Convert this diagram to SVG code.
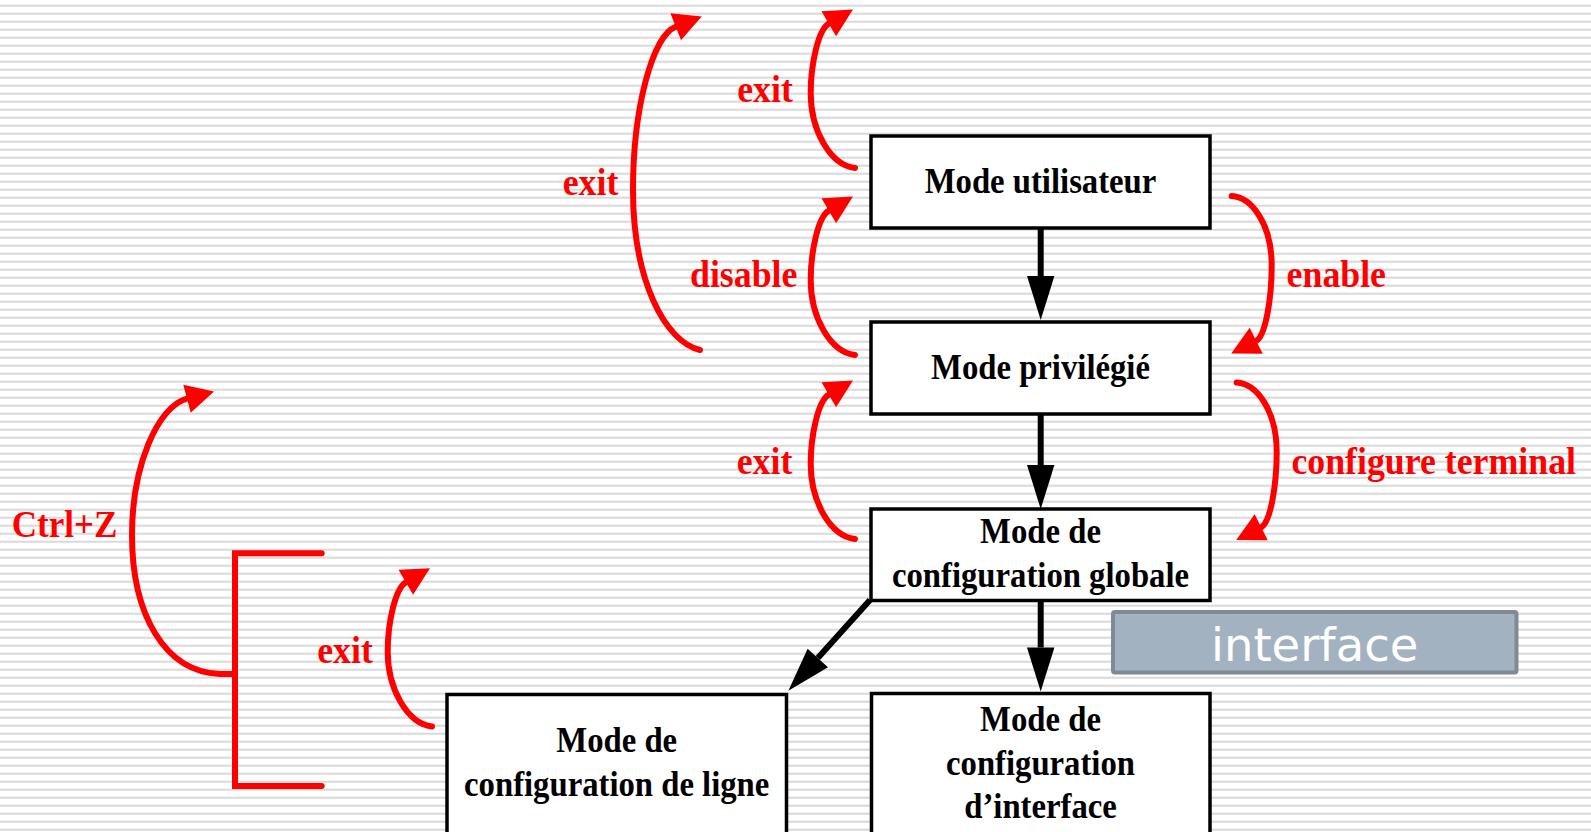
<svg xmlns="http://www.w3.org/2000/svg" width="1591" height="832" viewBox="0 0 1591 832">
<style>
.box{fill:#fff;stroke:#000;stroke-width:3.5}
.bt{font-family:"Liberation Serif","Times New Roman",serif;font-weight:bold;font-size:35.3px;fill:#000;text-anchor:middle}
.rt{font-family:"Liberation Serif","Times New Roman",serif;font-weight:bold;font-size:38.5px;fill:#ff0000;text-anchor:middle}
.red{fill:none;stroke:#ff0000;stroke-width:6;stroke-linecap:round}
.blk{fill:none;stroke:#000;stroke-width:6}
</style>
<defs>
<pattern id="bg" width="1591" height="8" patternUnits="userSpaceOnUse">
<rect x="0" y="4.7" width="1591" height="2" fill="#d9d9d9"/>
</pattern>
<marker id="rh" markerUnits="userSpaceOnUse" markerWidth="30" markerHeight="30" refX="0" refY="14.5" orient="auto" overflow="visible">
<path d="M0,0 L28,14.5 L0,29 z" fill="#ff0000"/>
</marker>
<marker id="bh" markerUnits="userSpaceOnUse" markerWidth="46" markerHeight="30" refX="0" refY="13.7" orient="auto" overflow="visible">
<path d="M0,0 L44,13.7 L0,27.4 z" fill="#000"/>
</marker>
</defs>
<rect width="1591" height="832" fill="#fff"/>
<rect width="1591" height="832" fill="url(#bg)"/>

<g id="connectors">
<path class="blk" d="M1040.7,228 L1040.7,276" marker-end="url(#bh)"/>
<path class="blk" d="M1040.7,414 L1040.7,465" marker-end="url(#bh)"/>
<path class="blk" d="M1040.7,600 L1040.7,647.5" marker-end="url(#bh)"/>
<path class="blk" d="M870,600 L817.8,658" marker-end="url(#bh)"/>

<path class="red" d="M700,350 C665,342 633,280 633,190 C633,110 652,36 675.7,26.7" marker-end="url(#rh)"/>
<path class="red" d="M855,168 C830,165 810.7,130 810.7,93 C810.7,65 818,30 828.8,23.7" marker-end="url(#rh)"/>
<path class="red" d="M855,355 C830,352 810.7,317 810.7,280 C810.7,252 818,217 828.8,210.7" marker-end="url(#rh)"/>
<path class="red" d="M855,539 C830,536 810.7,501 810.7,464 C810.7,436 818,401 828.8,394.7" marker-end="url(#rh)"/>
<path class="red" d="M432,726.6 C407,723.6 387.7,688.6 387.7,651.6 C387.7,623.6 395,588.6 405.8,582.3" marker-end="url(#rh)"/>
<path class="red" d="M1231.7,196 C1252,197 1271.7,225 1271.7,265 C1271.7,300 1265.1,336.3 1256.2,340.8" marker-end="url(#rh)"/>
<path class="red" d="M1236.7,382.5 C1257,383.5 1276.7,411.5 1276.7,451.5 C1276.7,486.5 1270.1,522.8 1261.2,527.3" marker-end="url(#rh)"/>
<path class="red" d="M235,674 L220,674 C165,672 132,615 132,535 C132,465 158,406.4 187,398.7" marker-end="url(#rh)"/>
<path class="red" style="stroke-linejoin:miter" d="M321.7,553.3 L235,553.3 L235,786 L321.7,786"/>

<text class="rt" transform="translate(590.5,195) scale(0.93,1)">exit</text>
<text class="rt" transform="translate(765,102) scale(0.93,1)">exit</text>
<text class="rt" transform="translate(743.7,287) scale(0.93,1)">disable</text>
<text class="rt" transform="translate(764.5,474) scale(0.93,1)">exit</text>
<text class="rt" transform="translate(1336.3,287) scale(0.93,1)">enable</text>
<text class="rt" transform="translate(1433.7,474) scale(0.93,1)">configure terminal</text>
<text class="rt" transform="translate(64.5,537) scale(0.91,1)">Ctrl+Z</text>
<text class="rt" transform="translate(345,663) scale(0.93,1)">exit</text>
</g>

<g id="mode-utilisateur">
<rect class="box" x="871" y="136" width="339" height="92"/>
<text class="bt" transform="translate(1040.5,193) scale(0.927,1)">Mode utilisateur</text>
</g>
<g id="mode-privilegie">
<rect class="box" x="871" y="322" width="339" height="92"/>
<text class="bt" transform="translate(1040.5,378.5) scale(0.927,1)">Mode privilégié</text>
</g>
<g id="mode-config-globale">
<rect class="box" x="871" y="509" width="339" height="91.5"/>
<text class="bt" transform="translate(1040.5,543) scale(0.927,1)">Mode de</text>
<text class="bt" transform="translate(1040.5,586.5) scale(0.927,1)">configuration globale</text>
</g>
<g id="mode-config-ligne">
<rect class="box" x="447" y="694.5" width="339.5" height="150"/>
<text class="bt" transform="translate(616.7,752) scale(0.927,1)">Mode de</text>
<text class="bt" transform="translate(616.7,796) scale(0.927,1)">configuration de ligne</text>
</g>
<g id="mode-config-interface">
<rect class="box" x="871.5" y="693.5" width="338.5" height="150"/>
<text class="bt" transform="translate(1040.5,731) scale(0.927,1)">Mode de</text>
<text class="bt" transform="translate(1040.5,774.5) scale(0.927,1)">configuration</text>
<text class="bt" transform="translate(1040.5,818) scale(0.927,1)">d’interface</text>
</g>
<g id="interface">
<rect x="1113" y="612" width="403.5" height="60.5" rx="2" fill="#a3b2c0" stroke="#7f8a94" stroke-width="4"/>
<text x="1314.7" y="661" font-family="DejaVu Sans, Verdana, sans-serif" font-size="46.5" fill="#fff" text-anchor="middle">interface</text>
</g>
</svg>
